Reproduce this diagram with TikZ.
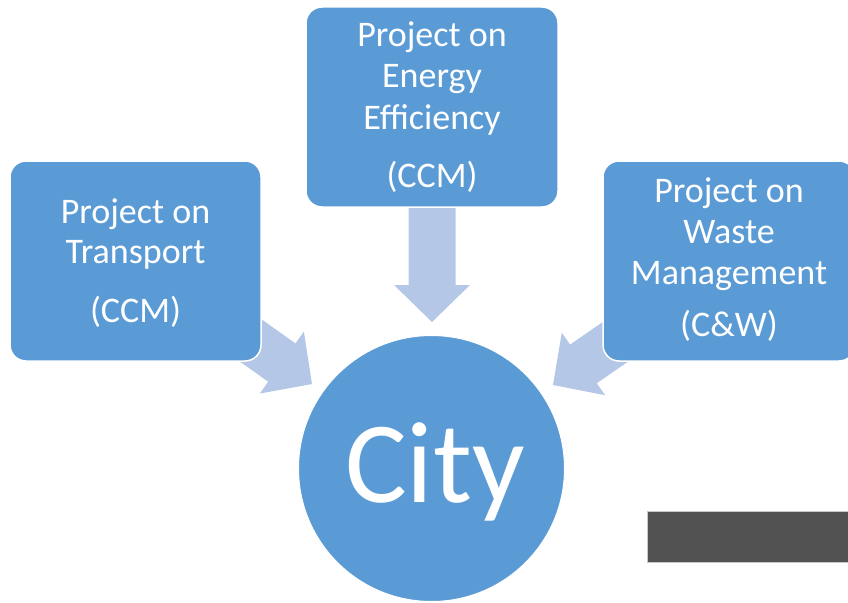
\documentclass[tikz,border=0pt]{standalone}
\usepackage{fontspec}
\setmainfont{Carlito}
\definecolor{boxblue}{HTML}{5B9BD5}
\definecolor{arrowblue}{HTML}{B4C7E7}
\definecolor{darkgray}{HTML}{525252}
\definecolor{rimgray}{HTML}{C8C8C8}
\tikzset{
  box/.style={draw=white, line width=1.5pt, fill=boxblue, rounded corners=16pt, inner sep=0pt},
  lbl/.style={anchor=base, text=white, inner sep=0pt, font=\fontsize{36}{40}\selectfont},
  citylbl/.style={anchor=base, text=white, inner sep=0pt, font=\fontsize{116}{120}\selectfont},
  blockarrow/.pic={
    \fill[arrowblue] (0,0) -- (-37,38) -- (-37,23.5) -- (-115,23.5) -- (-115,-23.5) -- (-37,-23.5) -- (-37,-38) -- cycle;
  }
}
\begin{document}
\begin{tikzpicture}[x=1pt,y=-1pt]
\useasboundingbox (0,0) rectangle (848,602);
\clip (0,0) rectangle (848,602);
% block arrows (drawn under the boxes)
\coordinate (ltip) at (312,384);
\coordinate (ttip) at (432,322);
\coordinate (rtip) at (553,385);
\pic[rotate=-35.4] at (ltip) {blockarrow};
\pic[rotate=-90] at (ttip) {blockarrow};
\pic[rotate=-145.3] at (rtip) {blockarrow};
% boxes
\node[box, minimum width=251pt, minimum height=200pt] (lbox) at (135.5,261) {};
\node[box, minimum width=252pt, minimum height=200pt] (tbox) at (432,107) {};
\node[box, minimum width=252pt, minimum height=200pt] (rbox) at (729,261) {};
% city
\node[circle, draw=white, line width=1pt, fill=boxblue, minimum size=266pt, inner sep=0pt] (city) at (431.5,468.5) {};
\node[citylbl] (citytxt) at (435,502) {City};
% left box text
\node[lbl] (l1) at (135.5,223) {Project on};
\node[lbl] (l2) at (135.5,263) {Transport};
\node[lbl] (l3) at (135.5,322) {(CCM)};
% top box text
\node[lbl] (t1) at (432,47) {Project on};
\node[lbl] (t2) at (432,88) {Energy};
\node[lbl] (t3) at (432,129) {Efficiency};
\node[lbl] (t4) at (432,187) {(CCM)};
% right box text
\node[lbl] (r1) at (729,202) {Project on};
\node[lbl] (r2) at (729,243) {Waste};
\node[lbl] (r3) at (729,284) {Management};
\node[lbl] (r4) at (729,336) {(C\&W)};
% dark bar
\node[draw=rimgray, line width=0.8pt, fill=darkgray, minimum width=220pt, minimum height=51pt, inner sep=0pt] (bar) at (757,536.5) {};
\end{tikzpicture}
\end{document}
